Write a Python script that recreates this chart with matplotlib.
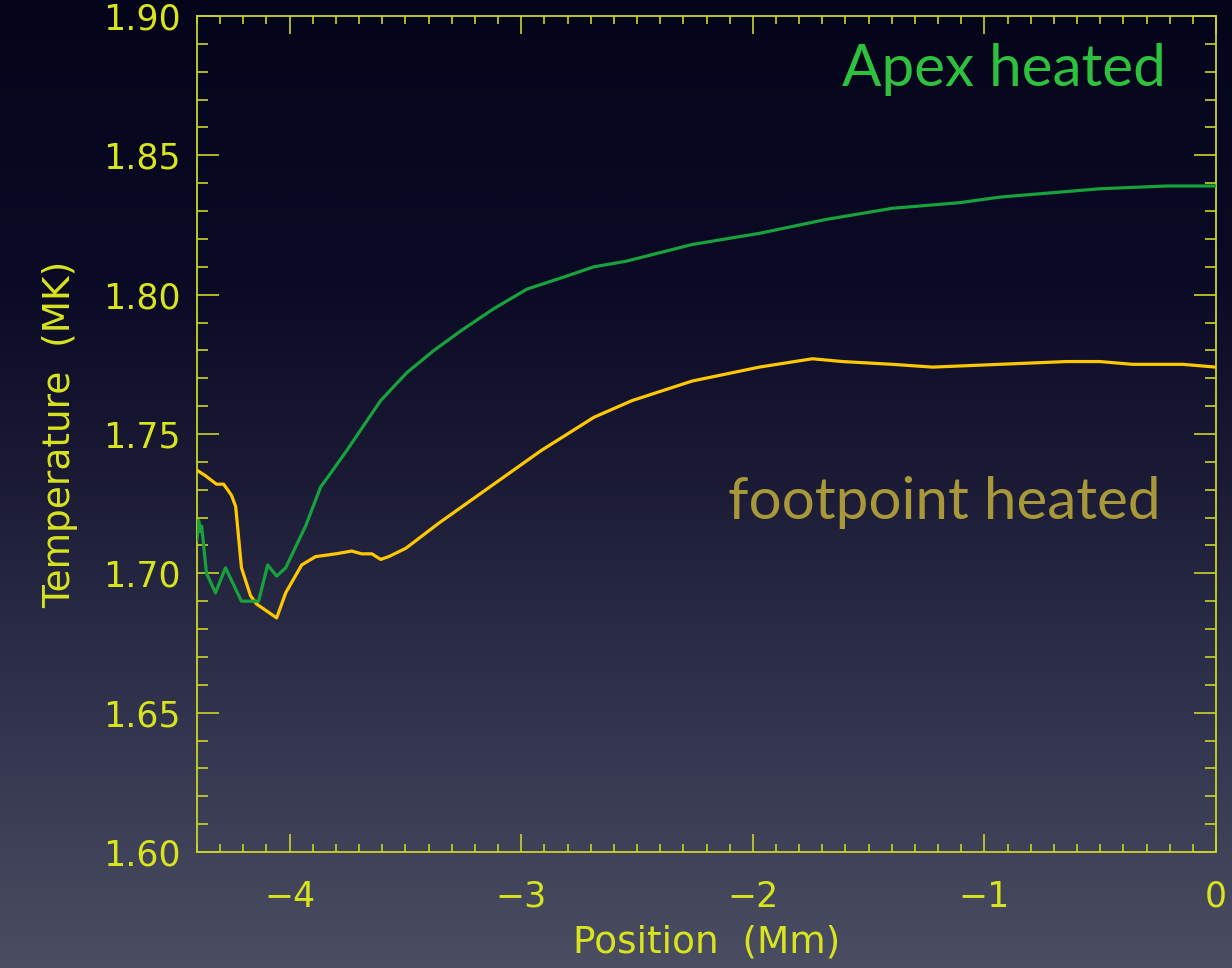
import numpy as np
import matplotlib
matplotlib.use("Agg")
import matplotlib.pyplot as plt
from matplotlib.colors import LinearSegmentedColormap
from matplotlib.ticker import MultipleLocator

# ----------------------------
# data
# ----------------------------
apex_x = [-4.40, -4.393, -4.385, -4.38, -4.359, -4.320, -4.277, -4.208, -4.134, -4.095,
          -4.056, -4.017, -3.931, -3.866, -3.831, -3.754, -3.607, -3.494, -3.377, -3.261,
          -3.118, -2.975, -2.828, -2.686, -2.547, -2.262, -1.972, -1.683, -1.397, -1.108,
          -0.935, -0.502, -0.213, 0.0]
apex_t = [1.712, 1.719, 1.715, 1.717, 1.700, 1.693, 1.702, 1.690, 1.690, 1.703,
          1.699, 1.702, 1.717, 1.731, 1.735, 1.744, 1.762, 1.772, 1.780, 1.787,
          1.795, 1.802, 1.806, 1.810, 1.812, 1.818, 1.822, 1.827, 1.831, 1.833,
          1.835, 1.838, 1.839, 1.839]

foot_x = [-4.40, -4.363, -4.316, -4.285, -4.251, -4.233, -4.208, -4.169, -4.143, -4.056,
          -4.017, -3.948, -3.888, -3.801, -3.732, -3.689, -3.645, -3.607, -3.572, -3.498,
          -3.356, -2.915, -2.686, -2.521, -2.262, -1.972, -1.743, -1.613, -1.397, -1.224,
          -0.935, -0.645, -0.502, -0.360, -0.144, 0.0]
foot_t = [1.737, 1.735, 1.732, 1.732, 1.728, 1.724, 1.702, 1.692, 1.689, 1.684,
          1.693, 1.703, 1.706, 1.707, 1.708, 1.707, 1.707, 1.705, 1.706, 1.709,
          1.718, 1.744, 1.756, 1.762, 1.769, 1.774, 1.777, 1.776, 1.775, 1.774,
          1.775, 1.776, 1.776, 1.775, 1.775, 1.774]

axis_col = "#c9d42a"
label_col = "#d8e41e"

fig = plt.figure(figsize=(12.32, 9.68), dpi=100)

# slide background: dark navy at top fading to grey-blue at bottom
bg = fig.add_axes([0, 0, 1, 1])
bg_cmap = LinearSegmentedColormap.from_list(
    "slide",
    [(0.0, "#04041a"), (0.3, "#0b0b26"), (0.5, "#1b1b36"),
     (0.75, "#33354f"), (1.0, "#4b4d61")])
grad = np.linspace(0, 1, 512).reshape(-1, 1)
bg.imshow(grad, aspect="auto", cmap=bg_cmap, extent=[0, 1, 0, 1], origin="upper")
bg.axis("off")

ax = fig.add_axes([197 / 1232, 1 - 852 / 968, (1216 - 197) / 1232, (852 - 16) / 968])
ax.set_facecolor("none")

ax.plot(foot_x, foot_t, color="#ffc800", lw=2.3, zorder=3)
ax.plot(apex_x, apex_t, color="#17a23c", lw=2.3, zorder=4)

ax.set_xlim(-4.4, 0)
ax.set_ylim(1.60, 1.90)

ax.xaxis.set_major_locator(MultipleLocator(1))
ax.xaxis.set_minor_locator(MultipleLocator(0.1))
ax.yaxis.set_major_locator(MultipleLocator(0.05))
ax.yaxis.set_minor_locator(MultipleLocator(0.01))
ax.yaxis.set_major_formatter(matplotlib.ticker.FormatStrFormatter("%.2f"))

for s in ax.spines.values():
    s.set_color(axis_col)
    s.set_linewidth(1.3)

ax.tick_params(axis="x", which="both", direction="in", top=True, bottom=True,
               color=axis_col, width=1.2, labelcolor=label_col, labelsize=25, pad=20)
ax.tick_params(axis="x", which="major", length=13)
ax.tick_params(axis="x", which="minor", length=6)
ax.tick_params(axis="y", which="both", direction="in", left=True, right=True,
               color=axis_col, width=1.2, labelcolor=label_col, labelsize=25, pad=12)
ax.tick_params(axis="y", which="major", length=16)
ax.tick_params(axis="y", which="minor", length=8)

ax.set_xlabel("Position  (Mm)", color=label_col, fontsize=27, labelpad=8)
ax.set_ylabel("Temperature  (MK)", color=label_col, fontsize=27, labelpad=18)

fig.text(1166 / 1232, 1 - 86 / 968, "Apex heated", color="#2ec13e",
         fontsize=42, family="Lato", ha="right", va="baseline")
fig.text(1161 / 1232, 1 - 519 / 968, "footpoint heated", color="#a8983a",
         fontsize=42, family="Lato", ha="right", va="baseline")

fig.savefig("out.png", dpi=100)
